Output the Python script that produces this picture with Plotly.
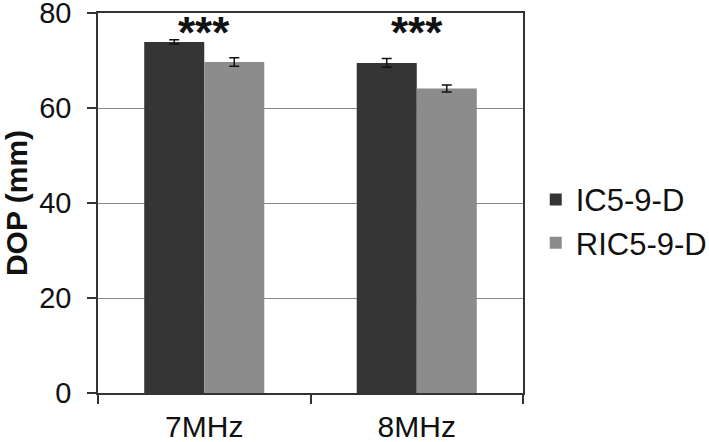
import plotly.graph_objects as go

categories = ["7MHz", "8MHz"]
series_names = ["IC5-9-D", "RIC5-9-D"]
ic_values = [73.9, 69.5]
ic_errors = [0.45, 0.9]
ric_values = [69.7, 64.1]
ric_errors = [0.9, 0.75]
sig_labels = ["***", "***"]
sig_y = [76.0, 76.0]
y_ticks = [0, 20, 40, 60, 80]

FONT = "Liberation Sans, Arial, sans-serif"

fig = go.Figure()
fig.add_trace(go.Bar(
    x=categories, y=ic_values, name=series_names[0],
    marker=dict(color="#353535", line=dict(width=0)),
    error_y=dict(type="data", array=ic_errors, color="#111111", thickness=1.5, width=5),
))
fig.add_trace(go.Bar(
    x=categories, y=ric_values, name=series_names[1],
    marker=dict(color="#8c8c8c", line=dict(width=0)),
    error_y=dict(type="data", array=ric_errors, color="#111111", thickness=1.5, width=5),
))

for c, t, yv in zip(categories, sig_labels, sig_y):
    fig.add_annotation(x=c, y=yv, text="<b>" + t + "</b>", showarrow=False, xref="x", yref="y",
                       yanchor="middle", font=dict(size=44, color="#111111", family=FONT))

fig.update_layout(
    width=709, height=442,
    margin=dict(l=98, r=186, t=13, b=49, autoexpand=False),
    paper_bgcolor="white", plot_bgcolor="white",
    barmode="group", bargap=0.435, bargroupgap=0,
    font=dict(family=FONT, color="#111111"),
    showlegend=True,
    legend=dict(x=1.030, y=0.452, xanchor="left", yanchor="middle",
                font=dict(size=31, family=FONT, color="#111111"),
                bgcolor="rgba(0,0,0,0)", itemwidth=30, tracegroupgap=0),
)
fig.update_xaxes(
    showline=True, linecolor="#333333", linewidth=1.5, mirror=True,
    ticks="outside", ticklen=9, tickcolor="#333333", tickwidth=1.5,
    tickson="boundaries", showgrid=False, automargin=False,
    tickfont=dict(size=30, family=FONT, color="#111111"),
    ticklabelstandoff=6, ticklabeloverflow="allow",
)
fig.update_yaxes(
    range=[-0.0001, 80.0001], tickvals=y_ticks,
    showline=True, linecolor="#333333", linewidth=1.5, mirror=True,
    ticks="outside", ticklen=9, tickcolor="#333333", tickwidth=1.5,
    showgrid=True, gridcolor="#8a8a8a", gridwidth=1.2, zeroline=False, automargin=False,
    tickfont=dict(size=29, family=FONT, color="#111111"),
    ticklabelstandoff=10, ticklabeloverflow="allow",
    title=dict(text="<b>DOP (mm)</b>", font=dict(size=30, family=FONT, color="#111111"), standoff=8),
)

fig.write_html("out.html", config={"displayModeBar": False},
               post_script="document.body.style.margin='0px';")
